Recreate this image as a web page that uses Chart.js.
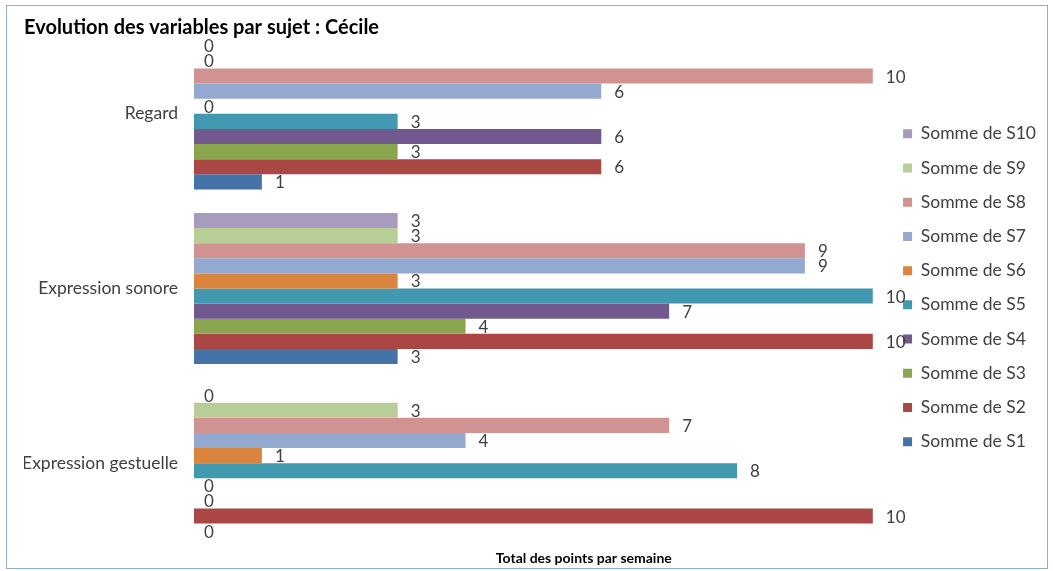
<!DOCTYPE html>
<html>
<head>
<meta charset="utf-8">
<script src="https://cdn.jsdelivr.net/npm/chart.js@4/dist/chart.umd.min.js"></script>
<style>
  body { margin: 0; background: #fff; }
  #wrap { position: relative; width: 1053px; height: 571px; }
  #frame { position: absolute; left: 6px; top: 5px; width: 1040px; height: 562px;
           border: 1.5px solid #8eaedb; pointer-events: none; }
</style>
</head>
<body>
<div id="wrap">
  <canvas id="chart" width="1053" height="571"></canvas>
  <div id="frame"></div>
</div>
<script>
// categories, top to bottom
const categories = ["Regard", "Expression sonore", "Expression gestuelle"];

// one array per week, values for [Regard, sonore, gestuelle]
const s10 = [0, 3, 0];
const s9  = [0, 3, 3];
const s8  = [10, 9, 7];
const s7  = [6, 9, 4];
const s6  = [0, 3, 1];
const s5  = [3, 10, 8];
const s4  = [6, 7, 0];
const s3  = [3, 4, 0];
const s2  = [6, 10, 10];
const s1  = [1, 3, 0];

const seriesNames  = ["Somme de S10", "Somme de S9", "Somme de S8", "Somme de S7", "Somme de S6",
                      "Somme de S5", "Somme de S4", "Somme de S3", "Somme de S2", "Somme de S1"];
const seriesValues = [s10, s9, s8, s7, s6, s5, s4, s3, s2, s1];
const seriesColors = ["#a99bbd", "#b9cd96", "#d19392", "#93a9cf", "#db843d",
                      "#4198af", "#71588f", "#89a54e", "#aa4643", "#4572a7"];

const FONT = "Lato";

// value labels at the end of each bar
const valueLabels = {
  id: "valueLabels",
  afterDatasetsDraw(chart) {
    const ctx = chart.ctx;
    ctx.save();
    ctx.font = "17px " + FONT;
    ctx.fillStyle = "#404040";
    ctx.textAlign = "left";
    ctx.textBaseline = "middle";
    chart.data.datasets.forEach((ds, i) => {
      chart.getDatasetMeta(i).data.forEach((bar, j) => {
        const v = ds.data[j];
        const x = v === 0 ? bar.base + 10 : bar.x + 13;
        ctx.fillText(String(v), x, bar.y + 1);
      });
    });
    ctx.restore();
  }
};

// axis title, placed under the plot like the original
const axisTitle = {
  id: "axisTitle",
  afterDraw(chart) {
    const {ctx, chartArea} = chart;
    ctx.save();
    ctx.font = "bold 14px " + FONT;
    ctx.fillStyle = "#000";
    ctx.textAlign = "center";
    ctx.textBaseline = "middle";
    ctx.fillText("Total des points par semaine", chartArea.left + (chartArea.right - chartArea.left) * 0.563, 558);
    ctx.restore();
  }
};

new Chart(document.getElementById("chart"), {
  type: "bar",
  data: {
    labels: categories,
    datasets: seriesNames.map((name, i) => ({
      label: name,
      data: seriesValues[i],
      backgroundColor: seriesColors[i],
      borderWidth: 0,
      barPercentage: 1,
      categoryPercentage: 0.865
    }))
  },
  options: {
    indexAxis: "y",
    responsive: false,
    animation: false,
    layout: { padding: { left: 24, right: 7, top: 0, bottom: 20.5 } },
    scales: {
      x: {
        display: false,
        min: 0,
        max: 10.2
      },
      y: {
        grid: { display: false, drawTicks: false },
        border: { display: false },
        ticks: { color: "#404040", font: { family: FONT, size: 17.5 }, padding: 16 },
        afterFit: s => {
          s.width = 170;
          s.paddingTop = 0;
          s.paddingBottom = 0;
        }
      }
    },
    plugins: {
      title: {
        display: true,
        text: "Evolution des variables par sujet : Cécile",
        align: "start",
        color: "#000",
        font: { family: FONT, size: 20, weight: "bold" },
        padding: { top: 16, bottom: -13.5 }
      },
      legend: {
        position: "right",
        title: { display: true, text: " ", font: { size: 10 }, padding: 6.5 },
        labels: {
          boxWidth: 9,
          boxHeight: 9,
          padding: 16.7,
          color: "#404040",
          font: { family: FONT, size: 17.5 }
        }
      },
      tooltip: { enabled: false }
    }
  },
  plugins: [valueLabels, axisTitle]
});
</script>
</body>
</html>
